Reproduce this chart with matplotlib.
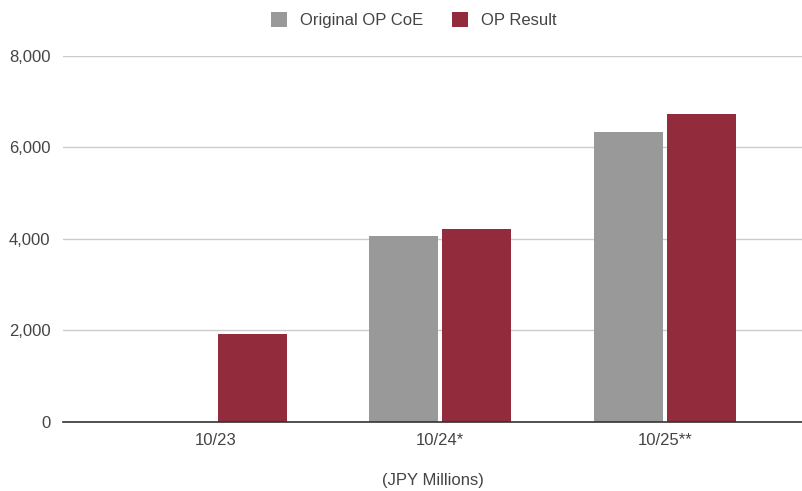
import matplotlib
matplotlib.use("Agg")
import matplotlib.pyplot as plt
import numpy as np

categories = ["10/23", "10/24*", "10/25**"]
original_op_coe = [0, 4070, 6340]
op_result = [1930, 4210, 6720]
series_names = ["Original OP CoE", "OP Result"]
yticks = [0, 2000, 4000, 6000, 8000]

plt.rcParams['font.family'] = ['Liberation Sans', 'DejaVu Sans']

fig = plt.figure(figsize=(8.03, 4.91), dpi=100)
ax = fig.add_axes([63/803, 69/491, (802-63)/803, (435.3-69)/491])

x = np.arange(len(categories))
w = 0.307
gap = 0.009
c_gray = "#999999"
c_red = "#922b3b"
orig_vals = [v if v > 0 else np.nan for v in original_op_coe]
ax.bar(x - w/2 - gap, orig_vals, width=w, color=c_gray, label=series_names[0], zorder=3)
ax.bar(x + w/2 + gap, op_result, width=w, color=c_red, label=series_names[1], zorder=3)

ax.set_xlim(-0.68, 2.61)
ax.set_ylim(0, 8000)
ax.set_yticks(yticks)
ax.set_yticklabels([f"{v:,}" for v in yticks])
ax.set_xticks(x)
ax.set_xticklabels(categories)
ax.yaxis.grid(True, color="#cccccc", linewidth=1, zorder=0)
ax.set_axisbelow(True)
for s in ["top", "right", "left"]:
    ax.spines[s].set_visible(False)
ax.spines["bottom"].set_color("#333333")
ax.spines["bottom"].set_linewidth(1.2)
ax.spines["bottom"].set_zorder(4)
ax.tick_params(axis="y", length=0, pad=9, labelsize=12, labelcolor="#444444")
ax.tick_params(axis="x", length=0, pad=8, labelsize=12, labelcolor="#444444")
ax.set_xlabel("(JPY Millions)", fontsize=12, color="#444444", labelpad=18)

fig.legend(loc="upper center", bbox_to_anchor=(0.515, 1.006), ncol=2, frameon=False,
           fontsize=12, labelcolor="#444444", handlelength=1.0, handleheight=1.0,
           columnspacing=1.7, handletextpad=0.75)

fig.savefig("out.png", dpi=100)
